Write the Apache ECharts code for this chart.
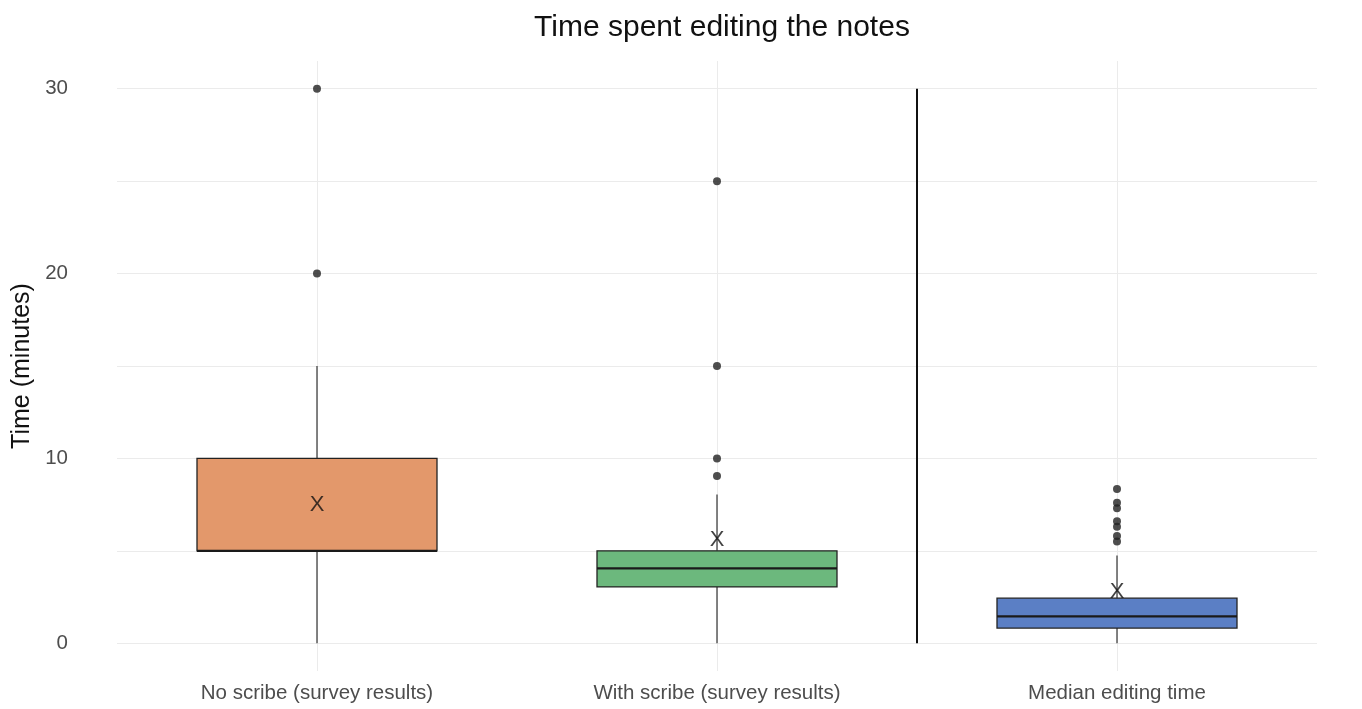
<!DOCTYPE html>
<html>
<head>
<meta charset="utf-8">
<script src="https://cdn.jsdelivr.net/npm/echarts@6/dist/echarts.min.js"></script>
<style>html,body{margin:0;padding:0;background:#fff}#c{width:1362px;height:709px}</style>
</head>
<body>
<div id="c"></div>
<script>
var categories = ['No scribe (survey results)', 'With scribe (survey results)', 'Median editing time'];
// [whiskerLow, q1, median, q3, whiskerHigh]
var boxStats = [
  [0, 5, 5, 10, 15],
  [0, 3.05, 4.05, 5, 8.05],
  [0, 0.82, 1.46, 2.44, 4.75]
];
var means = [7.5, 5.58, 2.76];
var outliers = [
  [0, 20], [0, 30],
  [1, 9.05], [1, 10], [1, 15], [1, 25],
  [2, 5.5], [2, 5.8], [2, 6.3], [2, 6.6], [2, 7.3], [2, 7.6], [2, 8.35]
];
var boxColors = ['#E3986B', '#6CB87D', '#5B7FC5'];
var separatorLine = [[1.5, 0], [1.5, 30]];
var yLabelValues = [0, 10, 20, 30];
var yGridValues = [0, 5, 10, 15, 20, 25, 30];
var xGridValues = [0, 1, 2];

var FONT = 'Liberation Sans, Arial, sans-serif';
var chart = echarts.init(document.getElementById('c'), null, {renderer: 'canvas'});

var boxData = boxStats.map(function (s, i) { return [i].concat(s); });

chart.setOption({
  animation: false,
  backgroundColor: '#ffffff',
  title: {
    text: 'Time spent editing the notes',
    left: 717, top: 8, textAlign: 'center',
    textStyle: {fontFamily: FONT, fontSize: 30, fontWeight: 'normal', color: '#111'}
  },
  grid: {left: 117, right: 45, top: 61, bottom: 38},
  xAxis: [{
    type: 'category', data: categories,
    axisLine: {show: false}, axisTick: {show: false}, splitLine: {show: false},
    axisLabel: {margin: 12, fontFamily: FONT, fontSize: 20.5, color: '#4d4d4d'}
  }, {
    type: 'value', min: -0.5, max: 2.5,
    axisLine: {show: false}, axisLabel: {show: false},
    axisTick: {show: false, customValues: xGridValues},
    splitLine: {show: true, lineStyle: {color: '#ebebeb', width: 1}}
  }],
  yAxis: {
    type: 'value', min: -1.5, max: 31.5,
    name: 'Time (minutes)', nameLocation: 'middle', nameGap: 70,
    nameTextStyle: {fontFamily: FONT, fontSize: 25, color: '#111'},
    axisLine: {show: false},
    axisTick: {show: false, customValues: yGridValues},
    axisLabel: {customValues: yLabelValues, fontFamily: FONT, fontSize: 20.5, color: '#4d4d4d', align: 'right', margin: 49},
    splitLine: {show: true, lineStyle: {color: '#ebebeb', width: 1}}
  },
  series: [{
    type: 'custom',
    xAxisIndex: 0,
    data: boxData,
    z: 3,
    renderItem: function (params, api) {
      var x = api.value(0);
      var lo = api.coord([x, api.value(1)]);
      var q1 = api.coord([x, api.value(2)]);
      var med = api.coord([x, api.value(3)]);
      var q3 = api.coord([x, api.value(4)]);
      var hi = api.coord([x, api.value(5)]);
      var bw = api.size([1, 0])[0] * 0.6;
      var cx = lo[0];
      return {
        type: 'group',
        children: [
          {type: 'line', shape: {x1: cx, y1: lo[1], x2: cx, y2: q1[1]}, style: {stroke: '#333', lineWidth: 1.2}},
          {type: 'line', shape: {x1: cx, y1: q3[1], x2: cx, y2: hi[1]}, style: {stroke: '#333', lineWidth: 1.2}},
          {type: 'rect', shape: {x: cx - bw / 2, y: q3[1], width: bw, height: q1[1] - q3[1]},
            style: {fill: boxColors[params.dataIndex], stroke: '#222', lineWidth: 1.3}},
          {type: 'line', shape: {x1: cx - bw / 2, y1: med[1], x2: cx + bw / 2, y2: med[1]}, style: {stroke: '#1a1a1a', lineWidth: 2.2}}
        ]
      };
    }
  }, {
    type: 'scatter', xAxisIndex: 0,
    data: outliers,
    symbol: 'circle', symbolSize: 8,
    itemStyle: {color: '#222'}, z: 4
  }, {
    type: 'scatter', xAxisIndex: 0,
    data: means.map(function (m, i) { return [i, m]; }),
    symbolSize: 1, itemStyle: {color: 'rgba(0,0,0,0)'},
    label: {show: true, position: 'inside', formatter: 'X', fontFamily: FONT, fontSize: 22, color: '#111'},
    z: 5
  }, {
    type: 'line', xAxisIndex: 1,
    data: separatorLine,
    symbol: 'none',
    lineStyle: {color: '#111', width: 2},
    z: 5
  }]
});
</script>
</body>
</html>
